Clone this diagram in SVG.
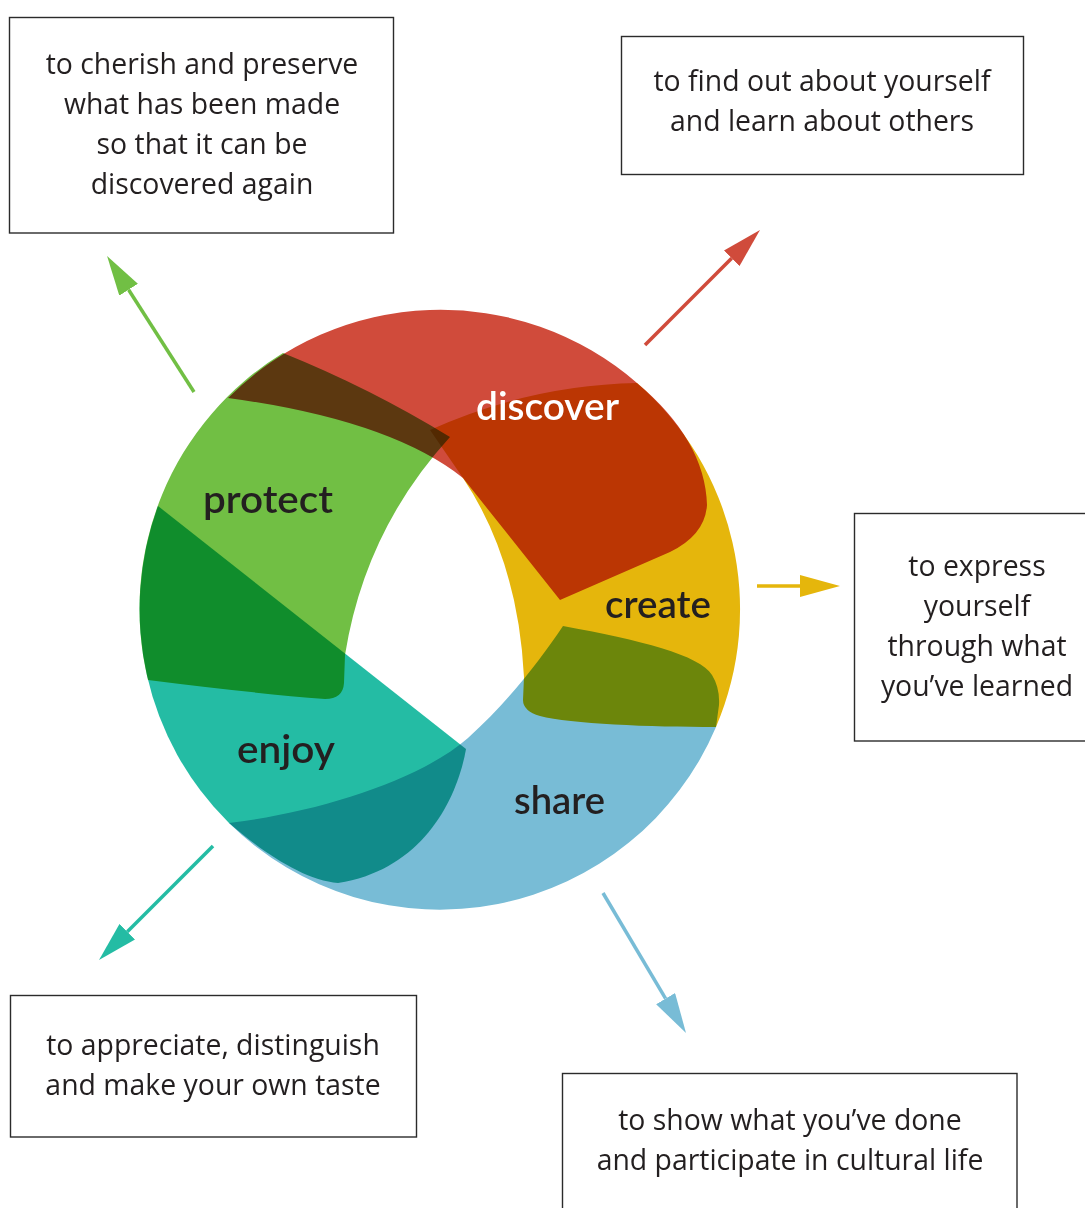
<svg xmlns="http://www.w3.org/2000/svg" width="1085" height="1208" viewBox="0 0 1085 1208">
<style>
.box{fill:#fff;stroke:#2b2b2b;stroke-width:1.4}
.bt{font-family:"Open Sans","Liberation Sans",sans-serif;font-size:28.4px;fill:#231f20;text-anchor:middle}
.seg{mix-blend-mode:multiply}
.lbl{font-family:Lato,"Open Sans",sans-serif;font-weight:600;font-size:39px;fill:#231f20}
.arr{stroke-width:3.5;fill:none}
</style>
<defs>
<marker id="hG" markerUnits="userSpaceOnUse" viewBox="0 -11 40 22" refX="0" refY="0" markerWidth="40" markerHeight="22" orient="auto"><path d="M0,-11 L40,0 L0,11 Z" fill="#71bf44"/></marker>
<marker id="hR" markerUnits="userSpaceOnUse" viewBox="0 -11 40 22" refX="0" refY="0" markerWidth="40" markerHeight="22" orient="auto"><path d="M0,-11 L40,0 L0,11 Z" fill="#d04b3b"/></marker>
<marker id="hY" markerUnits="userSpaceOnUse" viewBox="0 -11 40 22" refX="0" refY="0" markerWidth="40" markerHeight="22" orient="auto"><path d="M0,-11 L40,0 L0,11 Z" fill="#e5b60c"/></marker>
<marker id="hT" markerUnits="userSpaceOnUse" viewBox="0 -11 40 22" refX="0" refY="0" markerWidth="40" markerHeight="22" orient="auto"><path d="M0,-11 L40,0 L0,11 Z" fill="#24bca4"/></marker>
<marker id="hB" markerUnits="userSpaceOnUse" viewBox="0 -11 40 22" refX="0" refY="0" markerWidth="40" markerHeight="22" orient="auto"><path d="M0,-11 L40,0 L0,11 Z" fill="#78bcd6"/></marker>
</defs>
<rect x="0" y="0" width="1085" height="1208" fill="#fff"/>

<g id="create">
<path class="seg" fill="#e5b60c" d="M430,430 Q530,385 637,383 A300,300 0 0 1 716,727 C650,727 570,724 540,716 Q523,711 523,700 L524,677 Q518,560 463,478 Z"/>
<text class="lbl" x="605" y="618" textLength="106" lengthAdjust="spacingAndGlyphs">create</text>
</g>
<g id="discover">
<path class="seg" fill="#d04b3b" d="M228,398 A300,300 0 0 1 637,383 Q705,440 707,505 Q705,535 670,552 L560,600 L463,478 Q390,420 228,398 Z"/>
<text class="lbl" x="476" y="420" textLength="143" lengthAdjust="spacingAndGlyphs" style="fill:#fff">discover</text>
</g>
<g id="protect">
<path class="seg" fill="#71bf44" d="M283,353 A300,300 0 0 0 148,680 Q250,693 325,699 Q343,699 344,683 L345,655 Q365,530 450,437 Q370,388 283,353 Z"/>
<text class="lbl" x="203" y="513" textLength="130" lengthAdjust="spacingAndGlyphs">protect</text>
</g>
<g id="enjoy">
<path class="seg" fill="#24bca4" d="M158,506 L466,749 C457,800 422,870 338,883 C305,881 262,852 229,823 A300,300 0 0 1 158,506 Z"/>
<text class="lbl" x="237" y="763" textLength="98" lengthAdjust="spacingAndGlyphs">enjoy</text>
</g>
<g id="share">
<path class="seg" fill="#78bcd6" d="M563,626 C640,640 700,655 712,675 Q720,688 719,705 L716,727 A300,300 0 0 1 229,823 C320,812 420,780 468,738 C510,700 540,660 563,626 Z"/>
<text class="lbl" x="514" y="814" textLength="91" lengthAdjust="spacingAndGlyphs">share</text>
</g>

<g id="connectors">
<line class="arr" stroke="#71bf44" x1="194" y1="392" x2="128.6" y2="289.7" marker-end="url(#hG)"/>
<line class="arr" stroke="#d04b3b" x1="645" y1="345" x2="731.7" y2="258.3" marker-end="url(#hR)"/>
<line class="arr" stroke="#e5b60c" x1="757" y1="586" x2="800" y2="586" marker-end="url(#hY)"/>
<line class="arr" stroke="#24bca4" x1="213" y1="846" x2="127.3" y2="931.7" marker-end="url(#hT)"/>
<line class="arr" stroke="#78bcd6" x1="603" y1="893" x2="665.6" y2="998.6" marker-end="url(#hB)"/>
</g>

<g id="box-protect">
<rect class="box" x="9.5" y="17.5" width="384" height="215.5"/>
<text class="bt" x="202" y="74">to cherish and preserve</text>
<text class="bt" x="202" y="114">what has been made</text>
<text class="bt" x="202" y="154">so that it can be</text>
<text class="bt" x="202" y="194">discovered again</text>
</g>
<g id="box-discover">
<rect class="box" x="621.5" y="36.5" width="402" height="138"/>
<text class="bt" x="822" y="91">to find out about yourself</text>
<text class="bt" x="822" y="131">and learn about others</text>
</g>
<g id="box-create">
<rect class="box" x="854.5" y="513.5" width="240" height="227.5"/>
<text class="bt" x="977" y="576">to express</text>
<text class="bt" x="977" y="616">yourself</text>
<text class="bt" x="977" y="656">through what</text>
<text class="bt" x="977" y="696">you’ve learned</text>
</g>
<g id="box-enjoy">
<rect class="box" x="10.5" y="995.5" width="406" height="141.5"/>
<text class="bt" x="213" y="1055">to appreciate, distinguish</text>
<text class="bt" x="213" y="1095">and make your own taste</text>
</g>
<g id="box-share">
<rect class="box" x="562.5" y="1073.5" width="454.5" height="150"/>
<text class="bt" x="790" y="1130">to show what you’ve done</text>
<text class="bt" x="790" y="1170">and participate in cultural life</text>
</g>
</svg>
